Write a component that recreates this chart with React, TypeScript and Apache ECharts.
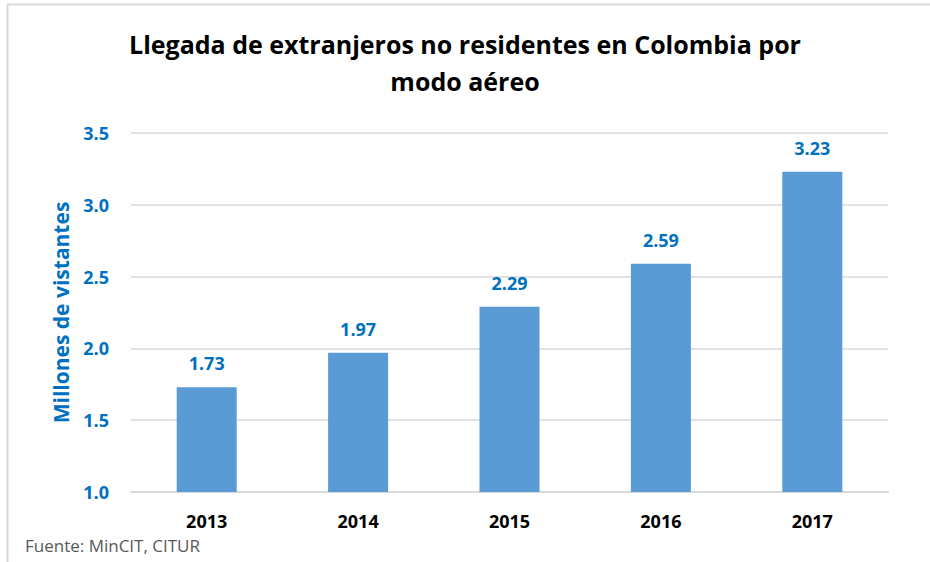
import React, { useEffect, useRef } from "react";
import * as echarts from "echarts";

const categories = ["2013", "2014", "2015", "2016", "2017"];
const values = [1.73, 1.97, 2.29, 2.59, 3.23];
const titleText = "Llegada de extranjeros no residentes en Colombia por\nmodo aéreo";
const yAxisName = "Millones de vistantes";
const sourceText = "Fuente: MinCIT, CITUR";

const FONT = "'Open Sans', sans-serif";
const BLUE = "#0070c0";

export default function App() {
  const ref = useRef<HTMLDivElement>(null);
  useEffect(() => {
    if (!ref.current) return;
    const chart = echarts.init(ref.current, null, { renderer: "svg" });
    chart.setOption({
      animation: false,
      backgroundColor: "#ffffff",
      title: {
        text: titleText,
        left: "center",
        top: 20,
        textStyle: {
          fontFamily: FONT,
          fontSize: 25,
          fontWeight: "bold",
          color: "#000000",
          lineHeight: 37,
        },
      },
      graphic: [
        {
          type: "line",
          shape: { x1: 7, y1: 4.5, x2: 930, y2: 4.5 },
          style: { stroke: "#d9d9d9", lineWidth: 2 },
        },
        {
          type: "line",
          shape: { x1: 7.5, y1: 4, x2: 7.5, y2: 562 },
          style: { stroke: "#d9d9d9", lineWidth: 2 },
        },
        {
          type: "text",
          left: 25,
          top: 537,
          style: {
            text: sourceText,
            fontFamily: FONT,
            fontSize: 17,
            fill: "#595959",
          },
        },
      ],
      grid: { left: 131, right: 42, top: 133, bottom: 70 },
      xAxis: {
        type: "category",
        data: categories,
        axisLine: { lineStyle: { color: "#d9d9d9", width: 2 } },
        axisTick: { show: false },
        axisLabel: {
          fontFamily: FONT,
          fontSize: 18,
          fontWeight: "bold",
          color: "#000000",
          margin: 20,
        },
      },
      yAxis: {
        type: "value",
        min: 1.0,
        max: 3.5,
        interval: 0.5,
        name: yAxisName,
        nameLocation: "middle",
        nameGap: 60,
        nameTextStyle: {
          fontFamily: FONT,
          fontSize: 21,
          fontWeight: "bold",
          color: BLUE,
        },
        axisLine: { show: false },
        axisTick: { show: false },
        splitLine: { lineStyle: { color: "#d9d9d9", width: 1.5 } },
        axisLabel: {
          fontFamily: FONT,
          fontSize: 18,
          fontWeight: "bold",
          color: BLUE,
          margin: 22,
          formatter: (v: number) => v.toFixed(1),
        },
      },
      series: [
        {
          type: "bar",
          data: values,
          barWidth: 60,
          itemStyle: { color: "#5b9bd5" },
          label: {
            show: true,
            position: "top",
            distance: 15,
            fontFamily: FONT,
            fontSize: 18,
            fontWeight: "bold",
            color: BLUE,
            formatter: (p: any) => p.value.toFixed(2),
          },
        },
      ],
    });
    return () => chart.dispose();
  }, []);
  return (
    <div
      ref={ref}
      style={{ position: "fixed", left: 0, top: 0, width: 930, height: 562 }}
    />
  );
}
